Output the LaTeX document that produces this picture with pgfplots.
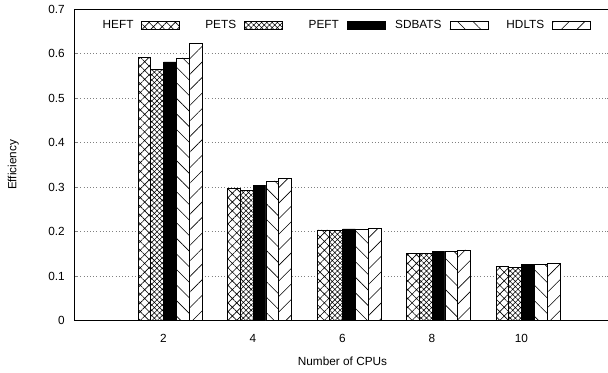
\documentclass[border=0pt]{standalone}
\usepackage{fontspec}
\setmainfont{Liberation Sans}
\usepackage{pgfplots}
\usepackage{pgfplotstable}
\pgfplotsset{compat=1.18}
\usetikzlibrary{patterns.meta}

\pgfplotstableread{
i heft pets peft sdbats hdlts
0 0.592 0.565 0.581 0.590 0.623
1 0.298 0.292 0.303 0.314 0.320
2 0.204 0.202 0.206 0.205 0.208
3 0.152 0.151 0.155 0.156 0.159
4 0.122 0.119 0.126 0.127 0.128
}\effdata

\newcommand\fnt{\fontsize{11.8bp}{14bp}\selectfont}
\pgfplotsset{
  mybar/.style={draw=black, line width=0.7bp, bar width=0.143, bar shift=0pt,
    legend image code/.code={\draw[##1] (0bp,-4bp) rectangle (38bp,4bp);}},
}

\begin{document}
\begin{tikzpicture}
\path[use as bounding box] (0,0) rectangle (608bp,373bp);
\begin{axis}[
  at={(74bp,52.3bp)}, anchor=south west,
  scale only axis, width=537bp, height=311.7bp,
  ybar,
  xmin=-1.0726, xmax=4.927, ymin=0, ymax=0.7,
  xtick={-0.075,0.925,1.925,2.925,3.925}, xticklabels={2,4,6,8,10},
  ytick={0,0.1,0.2,0.3,0.4,0.5,0.6,0.7},
  yticklabels={0,0.1,0.2,0.3,0.4,0.5,0.6,0.7},
  xtick style={draw=none},
  ytick style={line width=0.6bp},
  tick align=inside, major tick length=4bp,
  ymajorgrids,
  grid style={gray, dash pattern=on 0.8bp off 2.4bp, line width=0.6bp},
  axis line style={line width=0.9bp},
  tick label style={font=\fnt},
  label style={font=\fnt},
  yticklabel style={inner sep=0pt, xshift=-9bp},
  xticklabel style={inner sep=0pt, yshift=-13bp},
  xlabel={Number of CPUs},
  xlabel style={at={(axis description cs:0.5,-0.1315)}, anchor=center},
  ylabel={Efficiency},
  ylabel style={at={(axis description cs:-0.113,0.5)}, anchor=center},
  legend columns=5,
  legend plot pos=right,
  legend style={at={(0.021,0.947)}, anchor=west, draw=none, fill=none,
    inner sep=0pt, column sep=8bp, nodes={inner sep=0pt}, font=\fnt},
]
\addplot[mybar, fill=white, postaction={pattern={Hatch[angle=45,distance=6.2bp,line width=0.6bp]}}]
  table[x expr=\thisrow{i}-0.286, y=heft]{\effdata};
\addlegendentry{\makebox[48bp][r]{HEFT}}
\addplot[mybar, fill=white, postaction={pattern={Hatch[angle=45,distance=3.7bp,line width=0.55bp]}}]
  table[x expr=\thisrow{i}-0.143, y=pets]{\effdata};
\addlegendentry{\makebox[48bp][r]{PETS}}
\addplot[mybar, fill=black]
  table[x expr=\thisrow{i}, y=peft]{\effdata};
\addlegendentry{\makebox[48bp][r]{PEFT}}
\addplot[mybar, fill=white, postaction={pattern={Lines[angle=-45,distance=11bp,line width=0.6bp]}}]
  table[x expr=\thisrow{i}+0.143, y=sdbats]{\effdata};
\addlegendentry{\makebox[48bp][r]{SDBATS}}
\addplot[mybar, fill=white, postaction={pattern={Lines[angle=45,distance=11bp,line width=0.6bp]}}]
  table[x expr=\thisrow{i}+0.286, y=hdlts]{\effdata};
\addlegendentry{\makebox[48bp][r]{HDLTS}}
\end{axis}
\end{tikzpicture}
\end{document}
